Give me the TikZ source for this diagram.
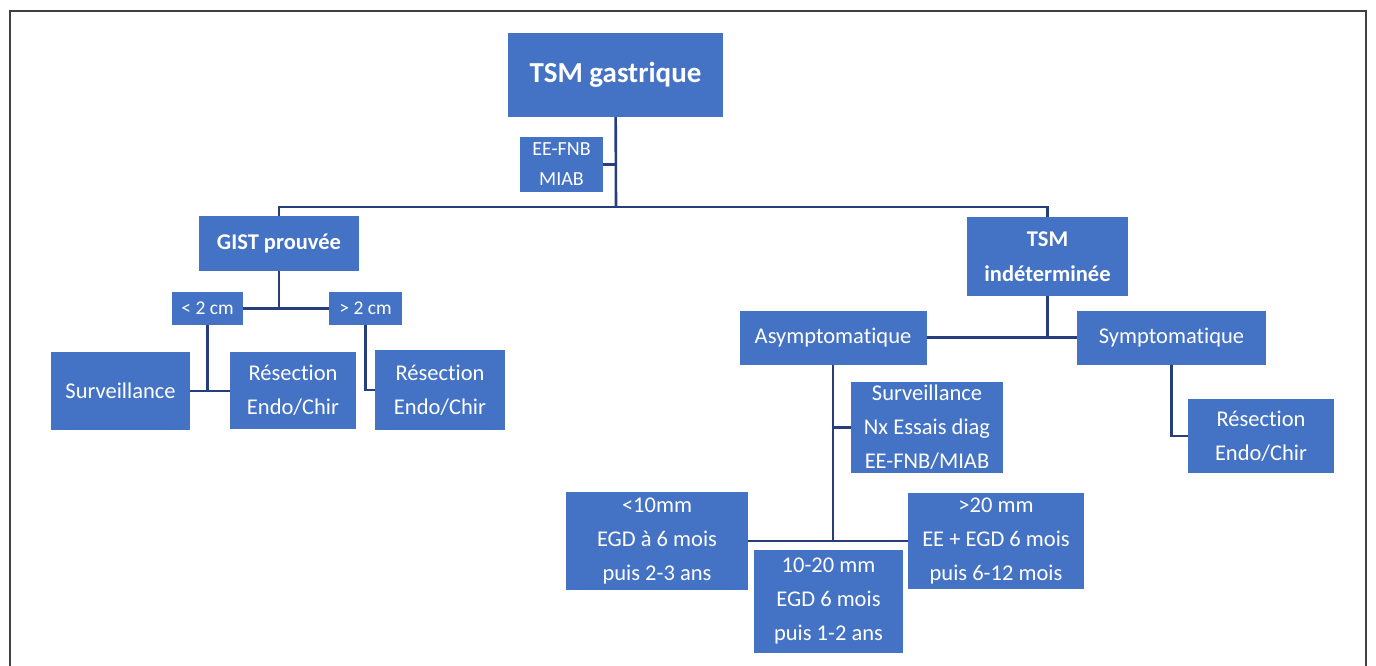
\documentclass[tikz,border=0pt]{standalone}
\usepackage{fontspec}
\setmainfont{Carlito}[Ligatures=NoCommon]
\usetikzlibrary{positioning,calc}

\definecolor{tsmblue}{RGB}{68,114,196}
\definecolor{tsmline}{RGB}{38,62,124}

\begin{document}
\begin{tikzpicture}[
  x=1pt,y=-1pt,
  box/.style={fill=tsmblue,text=white,align=center,inner sep=1pt,
              font=\fontsize{22.5}{34}\selectfont},
  sz/.style 2 args={minimum width=#1pt,minimum height=#2pt},
  head/.style={box,font=\fontsize{22.5}{35}\selectfont\bfseries},
  link/.style={draw=tsmline,line width=2.6pt},
  frame/.style={draw=black!75,line width=1.5pt}
]
\useasboundingbox (0,0) rectangle (1376,666);
\draw[frame] (10,670) -- (10,11) -- (1366,11) -- (1366,670);

% ---- top level ----
\node[box,sz={215}{84},font=\fontsize{29}{34}\selectfont\bfseries] (gastr) at (615.5,75) {TSM gastrique};
\node[box,sz={83}{55},font=\fontsize{20}{30}\selectfont] (biop) at (561.5,164.5) {EE-FNB\\MIAB};
\node[head,sz={160}{55}] (gist) at (279,243.5) {GIST prouvée};
\node[head,sz={161}{79}] (indet) at (1047.5,256.5) {TSM\\indéterminée};
\coordinate (bus1) at (616,207);

\draw[link] (gastr) -- (bus1);
\draw[link] (biop) -- (biop -| bus1);
\draw[link] (gist) |- (bus1) -| (indet);

% ---- GIST branch ----
\node[box,sz={71}{33},font=\fontsize{19.5}{24}\selectfont] (lt2) at (207.5,308.5) {< 2 cm};
\node[box,sz={73}{33},font=\fontsize{19.5}{24}\selectfont] (gt2) at (365.5,308.5) {> 2 cm};
\node[box,sz={139}{78}] (surv) at (120.5,391) {Surveillance};
\node[box,sz={126}{77}] (res1) at (293,390.5) {Résection\\Endo/Chir};
\node[box,sz={130}{80}] (res2) at (440,390) {Résection\\Endo/Chir};

\draw[link] (gist) -- (gist |- lt2);
\draw[link] (lt2) -- (gt2);
\draw[link] (lt2) -- (lt2 |- surv);
\draw[link] (surv) -- (surv -| res1.west);
\draw[link] (gt2) |- (res2);

% ---- indeterminate branch ----
\node[box,sz={187}{54}] (asym) at (833,337.5) {Asymptomatique};
\node[box,sz={189}{54}] (sym) at (1171.5,337.5) {Symptomatique};
\node[box,sz={152}{91}] (suivi) at (927,427.5) {Surveillance\\Nx Essais diag\\EE-FNB/MIAB};
\node[box,sz={146}{74}] (res3) at (1261,436) {Résection\\Endo/Chir};

\draw[link] (indet) -- (indet |- asym);
\draw[link] (asym) -- (sym);
\draw[link] (sym) |- (res3);

% ---- size classes ----
\node[box,sz={182}{98}] (small) at (657,541) {<10mm\\EGD à 6 mois\\puis 2-3 ans};
\node[box,sz={149}{103}] (mid) at (828.5,601.5) {10-20 mm\\EGD 6 mois\\puis 1-2 ans};
\node[box,sz={176}{96}] (large) at (996,541) {>20 mm\\EE + EGD 6 mois\\puis 6-12 mois};

\draw[link] (asym) -- (asym |- large);
\draw[link] (suivi) -- (suivi -| asym);
\draw[link] (small) -- (large);

\end{tikzpicture}
\end{document}
